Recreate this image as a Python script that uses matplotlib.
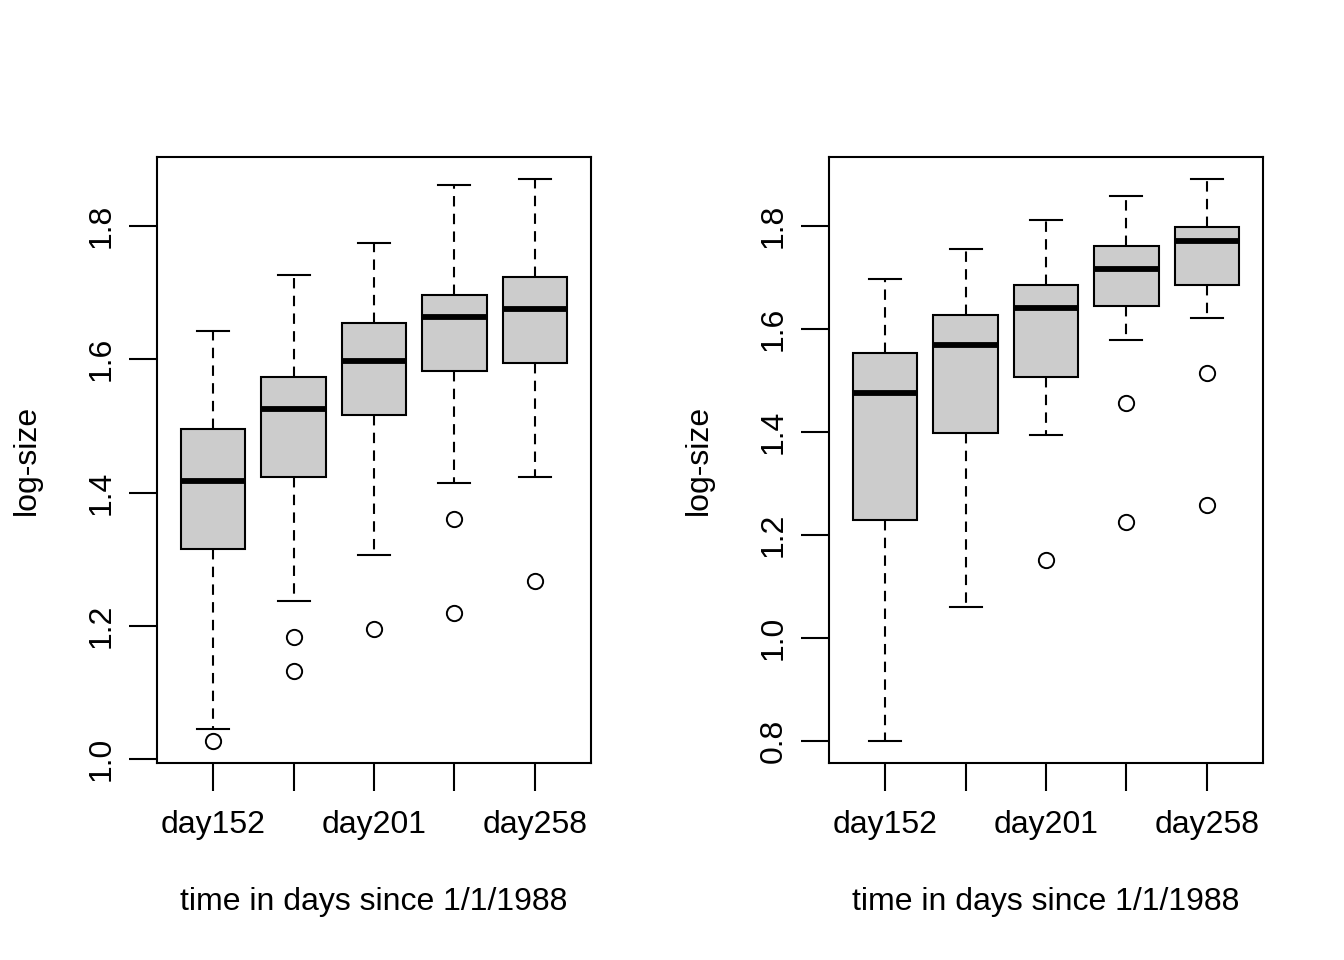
import matplotlib
matplotlib.use("Agg")
import matplotlib.pyplot as plt

plt.rcParams['font.family'] = ['Liberation Sans', 'DejaVu Sans']

categories = ["day152", "day174", "day201", "day227", "day258"]
shown_labels = ["day152", "", "day201", "", "day258"]

# left panel stats: whislo, q1, med, q3, whishi, outliers
left_whislo = [1.046, 1.238, 1.307, 1.414, 1.424]
left_q1 = [1.316, 1.423, 1.516, 1.583, 1.595]
left_med = [1.417, 1.526, 1.597, 1.663, 1.676]
left_q3 = [1.495, 1.573, 1.655, 1.696, 1.723]
left_whishi = [1.642, 1.727, 1.775, 1.861, 1.870]
left_fliers = [[1.028], [1.183, 1.132], [1.196], [1.360, 1.219], [1.268]]

right_whislo = [0.800, 1.060, 1.394, 1.579, 1.621]
right_q1 = [1.229, 1.398, 1.507, 1.645, 1.685]
right_med = [1.476, 1.569, 1.641, 1.717, 1.771]
right_q3 = [1.553, 1.627, 1.685, 1.761, 1.798]
right_whishi = [1.697, 1.755, 1.812, 1.858, 1.891]
right_fliers = [[], [], [1.152], [1.456, 1.225], [1.515, 1.258]]

left_yticks = [1.0, 1.2, 1.4, 1.6, 1.8]
right_yticks = [0.8, 1.0, 1.2, 1.4, 1.6, 1.8]

FS = 23
LW = 1.5

fig = plt.figure(figsize=(13.44, 9.6), dpi=100)
ax1 = fig.add_axes([157/1344, 1-763/960, 434/1344, 606/960])
ax2 = fig.add_axes([829/1344, 1-763/960, 434/1344, 606/960])


def draw(ax, whislo, q1, med, q3, whishi, fliers, yticks):
    stats = []
    for i in range(len(categories)):
        stats.append(dict(whislo=whislo[i], q1=q1[i], med=med[i], q3=q3[i],
                          whishi=whishi[i], fliers=fliers[i], label=categories[i]))
    pos = list(range(1, len(categories) + 1))
    ax.bxp(stats, positions=pos, widths=0.8, patch_artist=True,
           boxprops=dict(facecolor='#cccccc', edgecolor='black', linewidth=LW),
           medianprops=dict(color='black', linewidth=4.2, solid_capstyle='butt'),
           whiskerprops=dict(color='black', linewidth=LW, linestyle=(0, (5, 3.5))),
           capprops=dict(color='black', linewidth=LW),
           capwidths=0.4,
           flierprops=dict(marker='o', markerfacecolor='none', markeredgecolor='black',
                           markersize=11, markeredgewidth=1.4, linestyle='none'))
    allv = whislo + whishi + [v for f in fliers for v in f]
    lo, hi = min(allv), max(allv)
    r = hi - lo
    ax.set_ylim(lo - 0.04 * r, hi + 0.04 * r)
    ax.set_xlim(0.3, 5.7)
    ax.set_xticks(pos)
    ax.set_xticklabels(shown_labels)
    ax.set_yticks(yticks)
    ax.set_yticklabels([f"{t:.1f}" for t in yticks], rotation=90, va='center')
    ax.tick_params(axis='both', direction='out', length=20, width=LW, labelsize=FS)
    ax.tick_params(axis='y', pad=9)
    ax.tick_params(axis='x', pad=14)
    for s in ax.spines.values():
        s.set_linewidth(LW)
    ax.set_xlabel("time in days since 1/1/1988", fontsize=FS, labelpad=34)
    ax.set_ylabel("log-size", fontsize=FS, labelpad=32)


draw(ax1, left_whislo, left_q1, left_med, left_q3, left_whishi, left_fliers, left_yticks)
draw(ax2, right_whislo, right_q1, right_med, right_q3, right_whishi, right_fliers, right_yticks)

fig.savefig("out.png", dpi=100)
